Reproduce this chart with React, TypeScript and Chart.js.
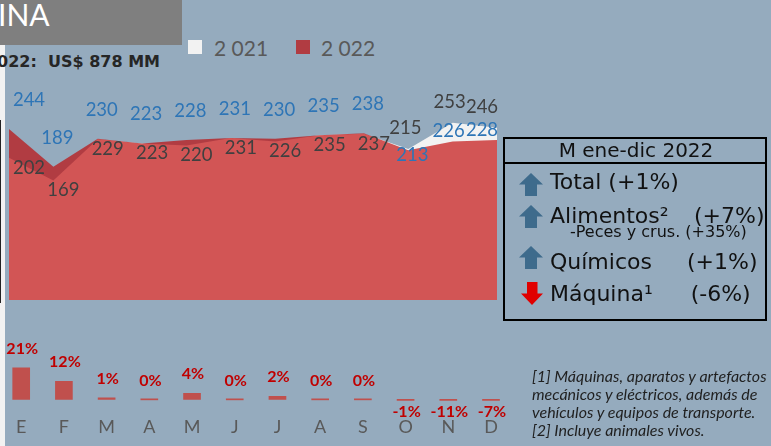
import React, { useEffect, useRef } from "react";
import { Chart, registerables } from "chart.js";

Chart.register(...registerables);

// ---------- data ----------
const months = ["E", "F", "M", "A", "M", "J", "J", "A", "S", "O", "N", "D"];
const series2021 = [202, 169, 229, 223, 220, 231, 226, 235, 237, 215, 253, 246];
const series2022 = [244, 189, 230, 223, 228, 231, 230, 235, 238, 213, 226, 228];
const monthlyChange = [21, 12, 1, 0, 4, 0, 2, 0, 0, -1, -11, -7];
const legendNames = ["2 021", "2 022"];

// ---------- styles ----------
const BG = "#95ABBE";
const WHITE_FILL = "#F2F2F2";
const RED_FILL = "rgba(192,0,0,0.65)";
const BLUE_LABEL = "#2E75B6";
const DARK_LABEL = "#404040";
const BAR_RED = "#C0504D";
const PCT_RED = "#C00000";
const ARROW_BLUE = "#3E6B8C";
const W = 771;
const H = 446;

const areaLabelPlugin = {
  id: "areaLabels",
  afterDatasetsDraw(chart: any) {
    const { ctx, chartArea } = chart;
    const p22 = chart.getDatasetMeta(0).data;
    const p21 = chart.getDatasetMeta(1).data;
    const clampX = (x: number) =>
      Math.min(Math.max(x, chartArea.left + 20), chartArea.right - 15);
    ctx.save();
    ctx.font = "18.5px Lato";
    ctx.textAlign = "center";
    ctx.textBaseline = "middle";
    series2022.forEach((v, i) => {
      const w = series2021[i];
      const gap = w - v;
      // label above the point when 2022 leads, inside the white band when it is wide, else just below
      const dy = gap <= 0 ? -29 : gap > 5 ? -10 : 5;
      const dx = gap > 5 ? -4 : 4;
      ctx.fillStyle = BLUE_LABEL;
      ctx.fillText(String(v), clampX(p22[i].x + dx), p22[i].y + dy);
      const above = w > v;
      ctx.fillStyle = DARK_LABEL;
      ctx.fillText(
        String(w),
        clampX(p21[i].x + (above ? -3 : 10)),
        p21[i].y + (above ? -21 : 10)
      );
    });
    ctx.restore();
  },
};

const barLabelPlugin = {
  id: "barLabels",
  afterDatasetsDraw(chart: any) {
    const { ctx } = chart;
    const bars = chart.getDatasetMeta(0).data;
    const y = chart.scales.y;
    ctx.save();
    ctx.font = "bold 16px Lato";
    ctx.fillStyle = PCT_RED;
    ctx.textAlign = "center";
    ctx.textBaseline = "middle";
    monthlyChange.forEach((v, i) => {
      const base = y.getPixelForValue(0);
      const ly = v >= 0 ? y.getPixelForValue(v) - 19 : base + 12;
      ctx.fillText(`${v}%`, bars[i].x + 1, ly);
    });
    ctx.restore();
  },
};

function T(props: {
  x: number;
  y: number;
  size: number;
  family?: string;
  weight?: number | string;
  italic?: boolean;
  color?: string;
  lh?: number;
  children: React.ReactNode;
}) {
  return (
    <div
      style={{
        position: "absolute",
        left: props.x,
        top: props.y,
        fontSize: props.size,
        fontFamily: props.family || "'DejaVu Sans'",
        fontWeight: props.weight || 400,
        fontStyle: props.italic ? "italic" : "normal",
        color: props.color || "#111",
        lineHeight: `${props.lh || props.size}px`,
        whiteSpace: "pre",
      }}
    >
      {props.children}
    </div>
  );
}

function UpArrow({ x, y }: { x: number; y: number }) {
  return (
    <svg style={{ position: "absolute", left: x, top: y }} width={24} height={23}>
      <polygon points="12,0 24,11.5 18,11.5 18,23 6,23 6,11.5 0,11.5" fill={ARROW_BLUE} />
    </svg>
  );
}

function DownArrow({ x, y }: { x: number; y: number }) {
  return (
    <svg style={{ position: "absolute", left: x, top: y }} width={22} height={23}>
      <polygon points="6,0 16.5,0 16.5,11.5 22,11.5 11,23 0,11.5 6,11.5" fill="#E00000" />
    </svg>
  );
}

export default function App() {
  const areaRef = useRef<HTMLCanvasElement>(null);
  const barRef = useRef<HTMLCanvasElement>(null);

  useEffect(() => {
    const area = new Chart(areaRef.current as HTMLCanvasElement, {
      type: "line",
      data: {
        labels: months,
        datasets: [
          {
            label: legendNames[1],
            data: series2022,
            fill: "start",
            backgroundColor: RED_FILL,
            borderColor: "rgba(0,0,0,0)",
            borderWidth: 0,
            pointRadius: 0,
            tension: 0,
          },
          {
            label: legendNames[0],
            data: series2021,
            fill: "start",
            backgroundColor: WHITE_FILL,
            borderColor: "rgba(0,0,0,0)",
            borderWidth: 0,
            pointRadius: 0,
            tension: 0,
          },
        ],
      },
      options: {
        responsive: false,
        animation: false,
        events: [],
        layout: { padding: { left: 9, right: W - 497, top: 94, bottom: H - 300 } },
        scales: {
          x: { type: "category", offset: false, display: false },
          y: { min: -5, max: 295, display: false },
        },
        plugins: { legend: { display: false }, tooltip: { enabled: false } },
      },
      plugins: [areaLabelPlugin],
    } as any);

    const bar = new Chart(barRef.current as HTMLCanvasElement, {
      type: "bar",
      data: {
        labels: months,
        datasets: [
          {
            data: monthlyChange,
            backgroundColor: BAR_RED,
            barThickness: 17,
            minBarLength: 1,
            clip: { left: 30, right: 30, top: 40, bottom: 0 },
          },
        ],
      },
      options: {
        responsive: false,
        animation: false,
        events: [],
        layout: { padding: { left: 19, right: W - 491, top: 361.7, bottom: 6 } },
        scales: {
          x: {
            type: "category",
            offset: false,
            grid: { display: false, drawTicks: false },
            border: { display: false },
            ticks: {
              color: "#595959",
              font: { family: "Lato", size: 18 },
              padding: 16,
              autoSkip: false,
              maxRotation: 0,
            },
          },
          y: { min: -1, max: 25, display: false },
        },
        plugins: { legend: { display: false }, tooltip: { enabled: false } },
      },
      plugins: [barLabelPlugin],
    } as any);

    return () => {
      area.destroy();
      bar.destroy();
    };
  }, []);

  return (
    <div
      style={{
        position: "absolute",
        left: 0,
        top: 0,
        width: W,
        height: H,
        background: BG,
        overflow: "hidden",
      }}
    >
      {/* left strip */}
      <div style={{ position: "absolute", left: 0, top: 45, width: 5, height: H - 45, background: WHITE_FILL }} />
      <div style={{ position: "absolute", left: 0, top: 120, width: 1, height: 183, background: "#222" }} />

      {/* title */}
      <div style={{ position: "absolute", left: 0, top: 0, width: 182, height: 45, background: "#7F7F7F" }} />
      <T x={-2} y={-1} size={30} family="Lato" color="#FFFFFF">INA</T>
      <T x={-3} y={54} size={16} weight={700} color="#262626">{"022:  US$ 878 MM"}</T>

      {/* legend */}
      <div style={{ position: "absolute", left: 188, top: 40, width: 14, height: 14, background: WHITE_FILL }} />
      <T x={214} y={36.5} size={21} family="Lato" color="#595959">{legendNames[0]}</T>
      <div style={{ position: "absolute", left: 296, top: 40, width: 14, height: 14, background: RED_FILL }} />
      <T x={321} y={36.5} size={21} family="Lato" color="#595959">{legendNames[1]}</T>

      <canvas ref={areaRef} width={W} height={H} style={{ position: "absolute", left: 0, top: 0, width: W, height: H }} />
      <canvas ref={barRef} width={W} height={H} style={{ position: "absolute", left: 0, top: 0, width: W, height: H }} />

      {/* summary box */}
      <div
        style={{
          position: "absolute",
          left: 503,
          top: 137,
          width: 264,
          height: 184,
          border: "2px solid #000",
          boxSizing: "border-box",
        }}
      />
      <div style={{ position: "absolute", left: 505, top: 162, width: 262, height: 2, background: "#000" }} />
      <div style={{ position: "absolute", left: 505, top: 140, width: 262, textAlign: "center", fontFamily: "'DejaVu Sans'", fontSize: 20, lineHeight: "20px", color: "#111" }}>
        M ene-dic 2022
      </div>

      <UpArrow x={519} y={173} />
      <T x={550} y={170.7} size={22}>Total (+1%)</T>

      <UpArrow x={519} y={205} />
      <T x={550} y={204.7} size={22}>Alimentos²</T>
      <T x={694} y={204.7} size={22}>(+7%)</T>
      <T x={570} y={223.8} size={16}>-Peces y crus. (+35%)</T>

      <UpArrow x={519} y={246} />
      <T x={550} y={250.7} size={22}>Químicos</T>
      <T x={687} y={250.7} size={22}>(+1%)</T>

      <DownArrow x={521} y={282} />
      <T x={550} y={283.1} size={22}>Máquina¹</T>
      <T x={690.7} y={283.1} size={22}>(-6%)</T>

      {/* footnotes */}
      <div
        style={{
          position: "absolute",
          left: 532,
          top: 367,
          fontFamily: "Lato",
          fontStyle: "italic",
          fontSize: 16,
          lineHeight: "18px",
          color: "#1F1F1F",
          whiteSpace: "pre",
        }}
      >
        {"[1] Máquinas, aparatos y artefactos\nmecánicos y eléctricos, además de\nvehículos y equipos de transporte.\n[2] Incluye animales vivos."}
      </div>
    </div>
  );
}
